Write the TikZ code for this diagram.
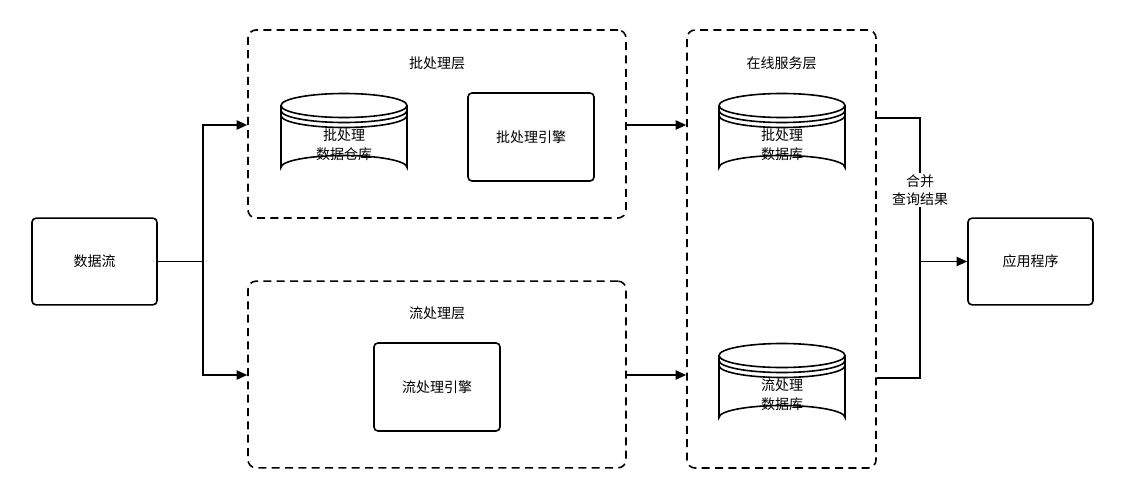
\documentclass[tikz,border=0pt]{standalone}
\usepackage{fontspec}
\setmainfont{Noto Sans CJK SC}
\usetikzlibrary{arrows.meta}
\tikzset{
	box/.style={draw, line width=1.2pt, rounded corners=3pt, align=center, font=\fontsize{10.5}{14}\selectfont},
	layer/.style={draw, line width=1.2pt, dashed, dash pattern=on 6pt off 4pt, rounded corners=6pt},
	lbl/.style={font=\fontsize{10.5}{14}\selectfont, align=center},
	link/.style={line width=1.2pt, -{Triangle[length=8pt,width=7pt]}},
	line/.style={line width=1.2pt}
}
% database cylinder: name, centre x, centre y, text
\newcommand{\database}[4]{
	\node (#1) [minimum width=94.5pt, minimum height=65pt, inner sep=0pt] at (#2,#3) {};
	\begin{scope}[shift={(#2,#3)}, line width=1.2pt]
		\fill[white] (-63,-31) -- (-63,31) arc[start angle=180, end angle=360, x radius=63, y radius=12] -- (63,-31) arc[start angle=0, end angle=180, x radius=63, y radius=12] -- cycle;
		\draw (-63,-31) -- (-63,31) arc[start angle=180, end angle=360, x radius=63, y radius=12] -- (63,-31);
		\draw (0,-31) ellipse[x radius=63, y radius=12];
		\draw (-63,-26) arc[start angle=180, end angle=0, x radius=63, y radius=12];
		\draw (-63,-21) arc[start angle=180, end angle=0, x radius=63, y radius=12];
	\end{scope}
	\node [lbl] at (#2,#3+8) {#4};
}
\begin{document}
\begin{tikzpicture}[x=0.75pt, y=-0.75pt]
	\useasboundingbox (0,0) rectangle (1125,500);
	% layers
	\node (batch) [layer, minimum width=283.5pt, minimum height=141pt] at (437,124) {};
	\node (stream) [layer, minimum width=283.5pt, minimum height=140pt] at (437,374.5) {};
	\node (serve) [layer, minimum width=141.75pt, minimum height=328.5pt] at (781.5,249) {};
	\node [lbl] at (437,63) {批处理层};
	\node [lbl] at (437,313) {流处理层};
	\node [lbl] at (781.5,63) {在线服务层};
	% boxes
	\node (src) [box, minimum width=93.75pt, minimum height=65pt] at (94.5,261.5) {数据流};
	\node (app) [box, minimum width=93.75pt, minimum height=65pt] at (1030.5,261.5) {应用程序};
	\node (bengine) [box, minimum width=94.5pt, minimum height=66pt] at (531,137) {批处理引擎};
	\node (sengine) [box, minimum width=94.5pt, minimum height=66pt] at (437,387) {流处理引擎};
	% databases
	\database{warehouse}{344}{136.5}{批处理\\数据仓库}
	\database{bdb}{782}{136.5}{批处理\\数据库}
	\database{sdb}{782}{386.5}{流处理\\数据库}
	% connectors
	\coordinate (split) at (203,261.5);
	\coordinate (merge) at (920,261.5);
	\draw [line] (src.east) -- (split);
	\draw [link] (split) |- (batch.west |- 0,125);
	\draw [link] (split) |- (stream.west |- 0,375);
	\draw [link] (batch.east |- 0,125) -- (serve.west |- 0,125);
	\draw [link] (stream.east |- 0,375) -- (serve.west |- 0,375);
	\draw [line] (serve.east |- 0,118) -| (merge);
	\draw [line] (serve.east |- 0,378) -| (merge);
	\draw [link] (merge) -- (app.west);
	\node [lbl, fill=white, inner sep=1pt] at (920,190) {合并\\查询结果};
\end{tikzpicture}
\end{document}
